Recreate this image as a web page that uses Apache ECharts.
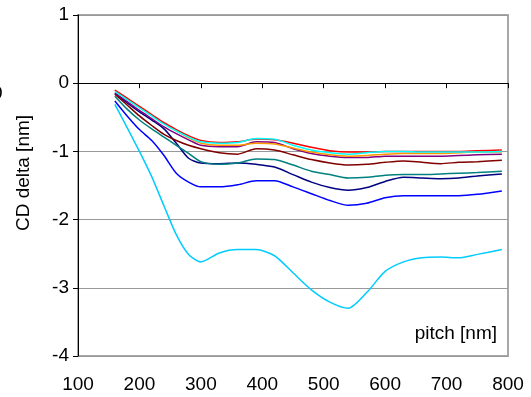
<!DOCTYPE html>
<html>
<head>
<meta charset="utf-8">
<script src="https://cdn.jsdelivr.net/npm/echarts@6/dist/echarts.min.js"></script>
<style>
  html, body { margin: 0; padding: 0; background: #fff; }
  #chart { width: 531px; height: 397px; }
</style>
</head>
<body>
<div id="chart"></div>
<script>
// Pitch values (nm) shared by every curve
const pitch = [160, 180, 200, 220, 240, 260, 280, 300, 330, 360, 390, 420, 450, 480, 510, 540, 570, 600, 630, 660, 690, 720, 750, 790];

// CD delta (nm) per curve
const cdRed    = [-0.10, -0.22, -0.34, -0.46, -0.58, -0.68, -0.77, -0.84, -0.87, -0.86, -0.82, -0.83, -0.88, -0.94, -0.99, -1.01, -1.01, -1.00, -1.00, -1.00, -1.00, -1.00, -0.99, -0.98];
const cdOrange = [-0.11, -0.23, -0.35, -0.47, -0.59, -0.70, -0.80, -0.88, -0.91, -0.91, -0.88, -0.89, -0.95, -1.01, -1.05, -1.07, -1.06, -1.04, -1.03, -1.03, -1.03, -1.02, -1.01, -1.01];
const cdCyan   = [-0.12, -0.24, -0.36, -0.48, -0.60, -0.70, -0.79, -0.86, -0.88, -0.87, -0.81, -0.82, -0.91, -0.98, -1.02, -1.04, -1.02, -1.00, -1.00, -1.01, -1.01, -1.01, -1.01, -1.00];
const cdPurple = [-0.14, -0.27, -0.40, -0.52, -0.64, -0.74, -0.83, -0.91, -0.93, -0.93, -0.86, -0.87, -0.96, -1.03, -1.07, -1.09, -1.09, -1.07, -1.07, -1.07, -1.07, -1.06, -1.05, -1.04];
const cdMaroon = [-0.16, -0.32, -0.48, -0.62, -0.75, -0.84, -0.91, -0.96, -1.02, -1.04, -0.96, -0.98, -1.05, -1.12, -1.17, -1.20, -1.19, -1.16, -1.14, -1.16, -1.18, -1.16, -1.15, -1.13];
const cdTeal   = [-0.19, -0.38, -0.54, -0.67, -0.79, -0.91, -1.03, -1.15, -1.19, -1.17, -1.11, -1.12, -1.20, -1.29, -1.34, -1.39, -1.38, -1.35, -1.34, -1.34, -1.33, -1.32, -1.31, -1.29];
const cdNavy   = [-0.15, -0.29, -0.42, -0.54, -0.67, -0.88, -1.10, -1.17, -1.18, -1.17, -1.19, -1.23, -1.34, -1.45, -1.53, -1.57, -1.53, -1.44, -1.38, -1.39, -1.40, -1.39, -1.36, -1.33];
const cdBlue   = [-0.26, -0.48, -0.68, -0.84, -1.06, -1.32, -1.45, -1.52, -1.52, -1.49, -1.43, -1.43, -1.52, -1.62, -1.72, -1.79, -1.76, -1.68, -1.65, -1.65, -1.65, -1.65, -1.63, -1.58];
const cdSky    = [-0.31, -0.65, -1.00, -1.37, -1.80, -2.22, -2.51, -2.62, -2.49, -2.44, -2.44, -2.53, -2.78, -3.03, -3.21, -3.30, -3.07, -2.76, -2.62, -2.56, -2.55, -2.56, -2.51, -2.44];

// Axis ticks
const xTicks = [100, 200, 300, 400, 500, 600, 700, 800];
const yTicks = [1, 0, -1, -2, -3, -4];

const curves = [
  { data: cdSky,    color: '#00CCFF' },
  { data: cdBlue,   color: '#0000FF' },
  { data: cdNavy,   color: '#000080' },
  { data: cdTeal,   color: '#008080' },
  { data: cdMaroon, color: '#800000' },
  { data: cdPurple, color: '#800080' },
  { data: cdOrange, color: '#FF9900' },
  { data: cdRed,    color: '#FF0000' },
  { data: cdCyan,   color: '#00FFFF' }
];

const font = 'Liberation Sans, Arial, sans-serif';
const chart = echarts.init(document.getElementById('chart'), null, { renderer: 'canvas' });

chart.setOption({
  animation: false,
  backgroundColor: '#ffffff',
  grid: {
    left: 78, right: 23, top: 15, bottom: 41,
    show: true, borderColor: '#a8a8a8', borderWidth: 2
  },
  xAxis: [
    {
      type: 'value', min: xTicks[0], max: xTicks[xTicks.length - 1], interval: 100,
      axisLine: { onZero: true, lineStyle: { color: '#000', width: 1 } },
      axisTick: { show: true, length: 5, lineStyle: { color: '#000' } },
      axisLabel: { show: false },
      splitLine: { show: false }
    },
    {
      type: 'value', min: xTicks[0], max: xTicks[xTicks.length - 1], interval: 100,
      position: 'bottom',
      axisLine: { show: false, onZero: false },
      axisTick: { show: false },
      axisLabel: { show: true, color: '#000', fontSize: 19, fontFamily: font, margin: 19 },
      splitLine: { show: false }
    }
  ],
  yAxis: {
    type: 'value', min: yTicks[yTicks.length - 1], max: yTicks[0], interval: 1,
    axisLine: { show: true, lineStyle: { color: '#000', width: 1 } },
    axisTick: { show: true, length: 5, lineStyle: { color: '#000' } },
    axisLabel: { color: '#000', fontSize: 19, fontFamily: font, margin: 9 },
    splitLine: { show: true, lineStyle: { color: '#999999', width: 1 } }
  },
  graphic: [
    {
      type: 'text', x: 24, y: 173, rotation: Math.PI / 2,
      style: { text: 'CD delta [nm]', fill: '#000', font: '19px ' + font, textAlign: 'center', textVerticalAlign: 'middle' }
    },
    {
      type: 'text', x: 497, y: 334,
      style: { text: 'pitch [nm]', fill: '#000', font: '19px ' + font, textAlign: 'right', textVerticalAlign: 'middle' }
    },
    {
      type: 'text', x: -8, y: 94,
      style: { text: '0', fill: '#000', font: '19px ' + font, textAlign: 'left', textVerticalAlign: 'middle' }
    }
  ],
  series: curves.map(c => ({
    type: 'line',
    xAxisIndex: 0,
    data: pitch.map((p, i) => [p, c.data[i]]),
    showSymbol: false,
    smooth: 0.25,
    lineStyle: { color: c.color, width: 1.5 },
    itemStyle: { color: c.color }
  }))
});
</script>
</body>
</html>
